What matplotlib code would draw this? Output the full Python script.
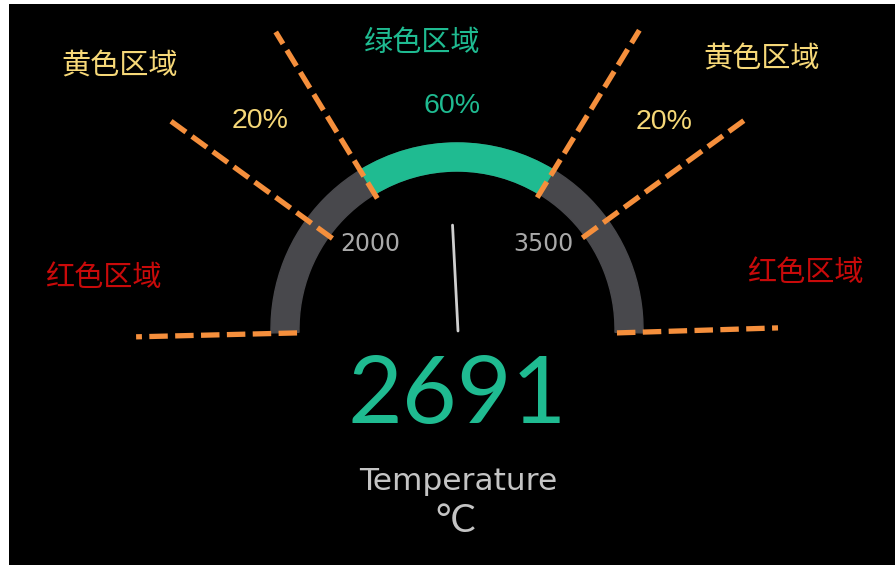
import numpy as np
import matplotlib
matplotlib.use("Agg")
import matplotlib.pyplot as plt
from matplotlib.patches import Wedge

# ---- data ----
gauge_min, gauge_max = 600, 4900
green_low, green_high = 2000, 3500
yellow_low, yellow_high = 1460, 4040
value = 2691
tick_values = [2000, 3500]
tick_labels = ["2000", "3500"]
zone_labels = ["黄色区域", "绿色区域", "黄色区域", "红色区域", "红色区域"]
pct_labels = ["20%", "60%", "20%"]
title_text = "Temperature"
unit_text = "°C"

W, H = 896, 565
fig = plt.figure(figsize=(W / 100, H / 100), dpi=100, facecolor="white")
ax = fig.add_axes([9 / W, 0, 886 / W, 561 / H])
ax.set_facecolor("black")
ax.set_xlim(9, 895)
ax.set_ylim(0, 561)
ax.set_axis_off()
ax.add_patch(plt.Rectangle((9, 0), 886, 561, color="black", zorder=0))

cx, cy = 457, H - 329
R_out, band = 186, 28


def ang(v):
    return 180 - (v - gauge_min) / (gauge_max - gauge_min) * 180


def pt(a, r):
    t = np.deg2rad(a)
    return cx + r * np.cos(t), cy + r * np.sin(t)


GRAY = "#48484c"
GREEN = "#1fbb91"
ORANGE = "#f58f3c"
YELLOW = "#f6d878"
RED = "#c80a0a"

ax.add_patch(Wedge((cx, cy), R_out, -1.2, 181.2, width=band, color=GRAY, zorder=2))
ax.add_patch(Wedge((cx, cy), R_out, ang(green_high), ang(green_low), width=band,
                   color=GREEN, zorder=3))

# dashed guide lines (angle_start, r_start, angle_end, r_end)
guides = [
    (181.4, 160, 181.4, 321),
    (ang(yellow_low), 154, ang(yellow_low), 358),
    (ang(green_low), 153, ang(green_low), 348),
    (ang(green_high), 154, ang(green_high), 350),
    (ang(yellow_high), 155, ang(yellow_high), 359),
    (-1.4, 160, 0.2, 321),
]
for a0, r0, a1, r1 in guides:
    x0, y0 = pt(a0, r0)
    x1, y1 = pt(a1, r1)
    ax.plot([x0, x1], [y0, y1], color=ORANGE, lw=3.8, dashes=(3.5, 1.4),
            solid_capstyle="butt", dash_capstyle="butt", zorder=5)

# needle
nx, ny = pt(ang(value), 104)
ax.plot([cx + 1, nx], [cy - 2, ny], color="#cfcfcf", lw=2.0, zorder=4,
        solid_capstyle="round")

# tick labels
for v, lab, a in zip(tick_values, tick_labels, [135.5, 44.5]):
    tx, ty = pt(a, 121)
    ax.text(tx, ty, lab, color="#a9a9a9", fontsize=17, family="DejaVu Sans",
            ha="center", va="center", zorder=6)

ax.text(457, H - 397, str(value), color=GREEN, fontsize=68, family="Lato",
        ha="center", va="center", zorder=6)
ax.text(458, H - 481, title_text, color="#c4c4c4", fontsize=22.5, family="DejaVu Sans",
        ha="center", va="center", zorder=6)
ax.text(456, H - 521, unit_text, color="#c4c4c4", fontsize=27, family="Lato",
        ha="center", va="center", zorder=6)

cjk = ["Noto Sans CJK SC", "DejaVu Sans"]
zone_pos = [(120, 67), (422, 43), (762, 60), (103, 278), (805, 273)]
zone_cols = [YELLOW, GREEN, YELLOW, RED, RED]
for lab, (x, y), c in zip(zone_labels, zone_pos, zone_cols):
    ax.text(x, H - y, lab, color=c, fontsize=21, family=cjk,
            ha="center", va="center", zorder=6)

pct_pos = [(260, 121), (452, 106), (664, 122)]
pct_cols = [YELLOW, GREEN, YELLOW]
for lab, (x, y), c in zip(pct_labels, pct_pos, pct_cols):
    ax.text(x, H - y, lab, color=c, fontsize=20.5, family="Liberation Sans",
            ha="center", va="center", zorder=6)

fig.savefig("out.png", dpi=100, facecolor="white")
